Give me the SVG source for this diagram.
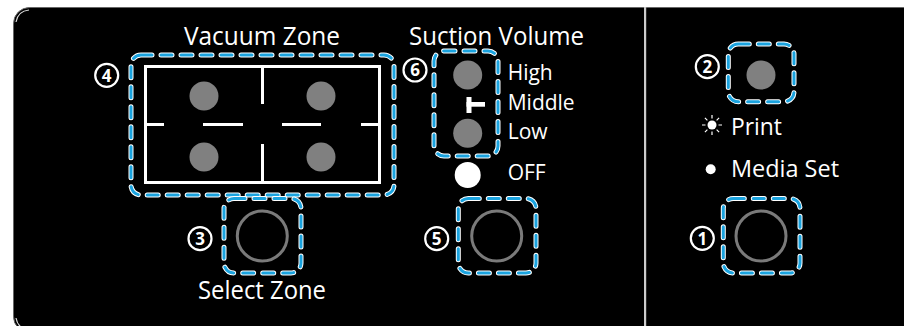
<svg xmlns="http://www.w3.org/2000/svg" width="904" height="326" viewBox="0 0 904 326">
<style>
.t{font-family:"Open Sans","Liberation Sans",sans-serif;fill:#fff}
.num{font-family:"Open Sans","Liberation Sans",sans-serif;font-weight:700;font-size:17px;fill:#fff;text-anchor:middle}
.nc{fill:#000;stroke:#fff;stroke-width:2.2}
.dw{fill:none;stroke:#fff;stroke-width:5;stroke-dasharray:11 9;stroke-linecap:round}
.db{fill:none;stroke:#1aa3df;stroke-width:3;stroke-dasharray:11 9;stroke-linecap:round}
.led{fill:#808080}
.btn{fill:none;stroke:#7a7a7a;stroke-width:3}
.w{stroke:#fff;stroke-width:3;fill:none}
</style>
<rect width="904" height="326" fill="#fff"/>
<g id="panel">
<rect x="13.5" y="7.5" width="930" height="325" rx="16" fill="#000" stroke="#666" stroke-width="1"/>
<path d="M16 22 Q18 11 29 10" fill="none" stroke="#ddd" stroke-width="1.2"/>
<path d="M16 318 Q17 324 21 327" fill="none" stroke="#ddd" stroke-width="1.2"/>
<rect x="644" y="7" width="2.2" height="320" fill="#ccc"/>
</g>
<g id="vacuum-zone">
<text class="t" x="262" y="45" font-size="25" text-anchor="middle" textLength="156" lengthAdjust="spacingAndGlyphs">Vacuum Zone</text>
<rect class="w" x="145.5" y="66.5" width="234" height="116"/>
<path class="w" d="M262.5 66 V104 M262.5 144 V183 M145 124.5 H164 M203 124.5 H243 M282 124.5 H321 M361 124.5 H380"/>
<circle class="led" cx="204" cy="96" r="14.5"/>
<circle class="led" cx="321" cy="96" r="14.5"/>
<circle class="led" cx="204" cy="157" r="14.5"/>
<circle class="led" cx="321" cy="157" r="14.5"/>
<rect class="dw" x="131" y="55" width="263" height="140" rx="10"/>
<rect class="db" x="131" y="55" width="263" height="140" rx="10"/>
<circle class="nc" cx="106.7" cy="75.3" r="11.5"/>
<text class="num" x="106.7" y="81.5">4</text>
</g>
<g id="suction-volume">
<text class="t" x="496.5" y="45" font-size="25" text-anchor="middle" textLength="175" lengthAdjust="spacingAndGlyphs">Suction Volume</text>
<circle class="led" cx="467.7" cy="75" r="14.5"/>
<circle class="led" cx="467.7" cy="133.3" r="14.5"/>
<rect x="466.5" y="97" width="5" height="16" fill="#fff"/>
<rect x="466.5" y="102" width="18.5" height="4.7" fill="#fff"/>
<rect class="dw" x="434" y="51" width="64" height="105" rx="10"/>
<rect class="db" x="434" y="51" width="64" height="105" rx="10"/>
<circle class="nc" cx="415" cy="70" r="11.5"/>
<text class="num" x="415" y="76.2">6</text>
<text class="t" x="507.7" y="80" font-size="21">High</text>
<text class="t" x="507.7" y="110" font-size="21">Middle</text>
<text class="t" x="507.7" y="138.5" font-size="21">Low</text>
<circle cx="467.7" cy="175" r="13" fill="#fff"/>
<text class="t" x="507.7" y="180" font-size="21">OFF</text>
</g>
<g id="select-zone-button">
<circle class="btn" cx="262.3" cy="236" r="25"/>
<rect class="dw" x="224" y="198.5" width="77" height="74.5" rx="10"/>
<rect class="db" x="224" y="198.5" width="77" height="74.5" rx="10"/>
<circle class="nc" cx="200" cy="238.7" r="11.5"/>
<text class="num" x="200" y="244.9">3</text>
<text class="t" x="262" y="299" font-size="26" text-anchor="middle" textLength="128" lengthAdjust="spacingAndGlyphs">Select Zone</text>
</g>
<g id="suction-button">
<circle class="btn" cx="496.7" cy="236" r="25"/>
<rect class="dw" x="458.3" y="198.5" width="77.7" height="74.5" rx="10"/>
<rect class="db" x="458.3" y="198.5" width="77.7" height="74.5" rx="10"/>
<circle class="nc" cx="436.7" cy="238.7" r="11.5"/>
<text class="num" x="436.7" y="244.9">5</text>
</g>
<g id="status-led">
<circle class="led" cx="761" cy="75" r="14.5"/>
<rect class="dw" x="728.3" y="44" width="65.7" height="57.7" rx="10"/>
<rect class="db" x="728.3" y="44" width="65.7" height="57.7" rx="10"/>
<circle class="nc" cx="707.3" cy="66.7" r="11.5"/>
<text class="num" x="707.3" y="72.9">2</text>
<circle cx="712" cy="125" r="4.5" fill="#fff"/>
<g stroke="#fff" stroke-width="1.2">
<path d="M718.5 125 H722 M705.5 125 H702 M712 118.5 V115 M712 131.5 V135 M716.6 120.4 L719.1 117.9 M707.4 120.4 L704.9 117.9 M716.6 129.6 L719.1 132.1 M707.4 129.6 L704.9 132.1"/>
</g>
<text class="t" x="731" y="135" font-size="24" textLength="51" lengthAdjust="spacingAndGlyphs">Print</text>
<circle cx="710.7" cy="169.3" r="5" fill="#fff"/>
<text class="t" x="731" y="177" font-size="23" textLength="108" lengthAdjust="spacingAndGlyphs">Media Set</text>
</g>
<g id="media-button">
<circle class="btn" cx="761" cy="236" r="25"/>
<rect class="dw" x="723.3" y="198.5" width="76.7" height="74.5" rx="10"/>
<rect class="db" x="723.3" y="198.5" width="76.7" height="74.5" rx="10"/>
<circle class="nc" cx="702.3" cy="238.3" r="11.5"/>
<text class="num" x="702.3" y="244.5">1</text>
</g>
<g id="connectors"></g>
</svg>
